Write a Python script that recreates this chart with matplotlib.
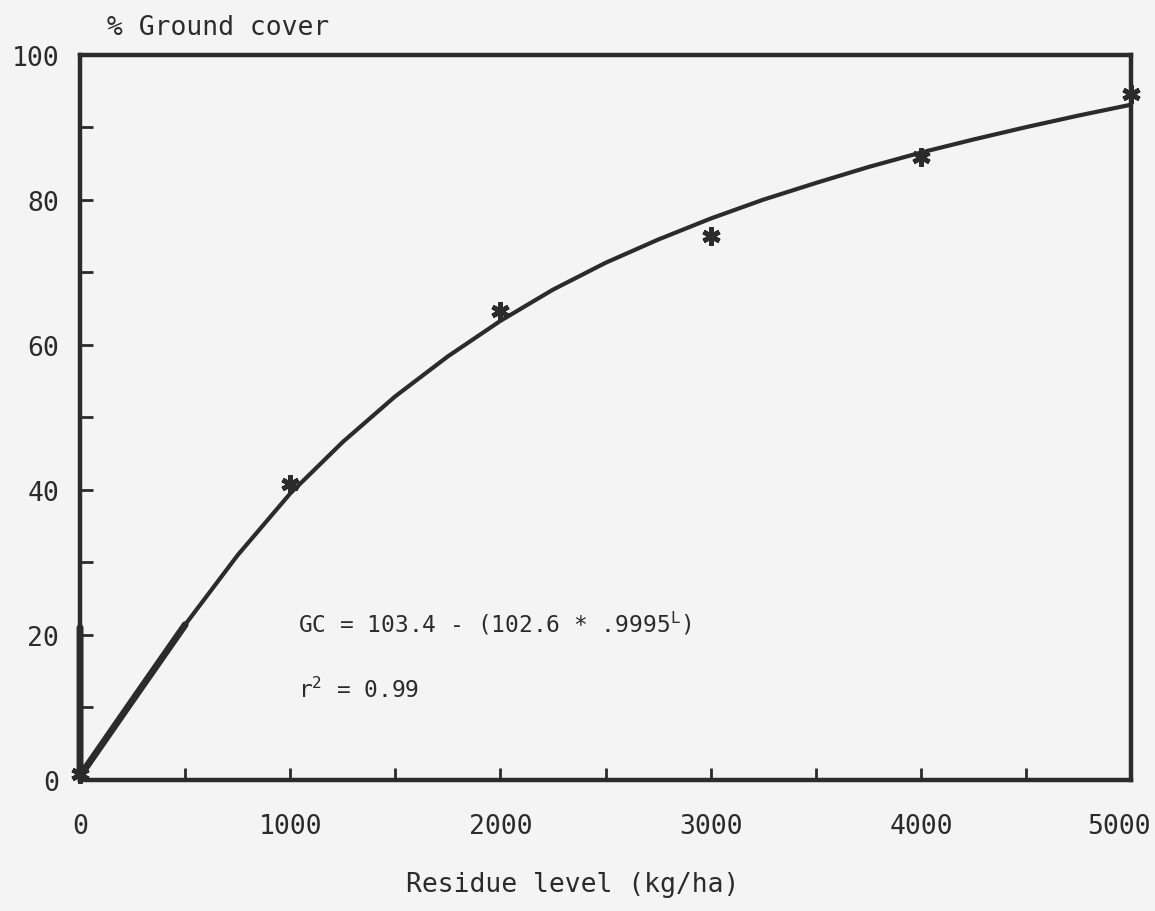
import matplotlib.pyplot as plt
from matplotlib.transforms import ScaledTranslation

# measured points (stars)
residue = [0, 1000, 2000, 3000, 4000, 5000]
cover = [0.8, 40.8, 64.6, 75.0, 85.9, 94.6]

# fitted curve as drawn on the figure
curve_L = [0, 0, 30, 250, 500, 750, 1000, 1250, 1500, 1750, 2000, 2250,
           2500, 2750, 3000, 3250, 3500, 3750, 4000, 4250, 4500, 4750, 5000]
curve_gc = [21, 0.5, 1.8, 11.0, 21.4, 31.0, 39.5, 46.6, 52.9, 58.4, 63.3, 67.6,
            71.3, 74.5, 77.4, 80.0, 82.3, 84.5, 86.5, 88.3, 90.0, 91.6, 93.1]

xticks = [0, 1000, 2000, 3000, 4000, 5000]
yticks = [0, 20, 40, 60, 80, 100]

ink = '#2b2b2b'
paper = '#f4f4f4'

plt.rcParams['font.family'] = 'DejaVu Sans Mono'
plt.rcParams['mathtext.fontset'] = 'custom'
plt.rcParams['mathtext.rm'] = 'DejaVu Sans Mono'

fig = plt.figure(figsize=(11.55, 9.12), dpi=100, facecolor=paper)
ax = fig.add_axes([0.0693, 0.1437, 0.9100, 0.7953])
ax.set_facecolor(paper)

ax.plot(curve_L, curve_gc, color=ink, lw=3.0, solid_capstyle='round',
        solid_joinstyle='round', clip_on=False, zorder=3)
# the first stretch of the curve is inked heavier
ax.plot(curve_L[:5], curve_gc[:5], color=ink, lw=5.0, solid_capstyle='round',
        clip_on=False, zorder=3)

ax.plot(residue, cover, linestyle='none', marker=(6, 2, 0), markersize=13,
        markeredgewidth=3.4, color=ink, clip_on=False, zorder=4)

ax.set_xlim(0, 5000)
ax.set_ylim(0, 100)

ax.set_xticks(xticks)
ax.set_xticks(range(0, 5001, 500), minor=True)
ax.set_yticks(yticks)
ax.set_yticks(range(0, 101, 10), minor=True)

ax.tick_params(axis='both', which='both', direction='in', color=ink,
               width=2.0, labelcolor=ink, labelsize=19, length=9)
ax.tick_params(axis='x', which='major', pad=24)
ax.tick_params(axis='y', which='major', pad=15)

# last x label sits a little left of the corner, as in the original
last = ax.get_xticklabels()[-1]
last.set_transform(last.get_transform() + ScaledTranslation(-9 / 72, 0, fig.dpi_scale_trans))

for s in ax.spines.values():
    s.set_color(ink)
    s.set_linewidth(3.2)

fig.text(0.0925, 0.969, '% Ground cover', fontsize=19, color=ink,
         ha='left', va='center')
fig.text(0.496, 0.030, 'Residue level (kg/ha)', fontsize=19, color=ink,
         ha='center', va='center')

ax.text(0.207, 0.2165, r'GC = 103.4 - (102.6 * .9995$^{\mathrm{L}}$)',
        transform=ax.transAxes, fontsize=16.5, color=ink, ha='left', va='center')
ax.text(0.207, 0.1255, r'r$^{\mathrm{2}}$ = 0.99', transform=ax.transAxes,
        fontsize=16.5, color=ink, ha='left', va='center')

fig.savefig('out.png', dpi=100, facecolor=paper)
